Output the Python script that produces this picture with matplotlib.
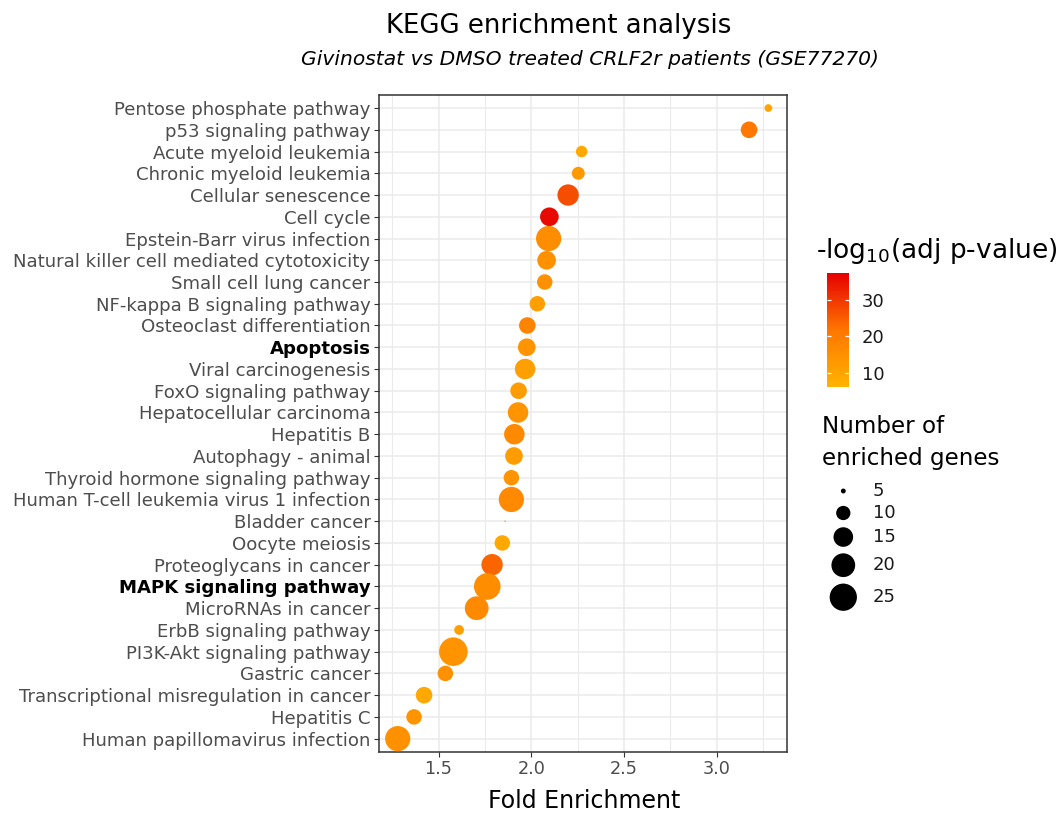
import numpy as np
import matplotlib.pyplot as plt
from matplotlib.colors import LinearSegmentedColormap, Normalize

# KEGG terms, top to bottom as shown
pathways = [
    "Pentose phosphate pathway", "p53 signaling pathway", "Acute myeloid leukemia",
    "Chronic myeloid leukemia", "Cellular senescence", "Cell cycle",
    "Epstein-Barr virus infection", "Natural killer cell mediated cytotoxicity",
    "Small cell lung cancer", "NF-kappa B signaling pathway", "Osteoclast differentiation",
    "Apoptosis", "Viral carcinogenesis", "FoxO signaling pathway", "Hepatocellular carcinoma",
    "Hepatitis B", "Autophagy - animal", "Thyroid hormone signaling pathway",
    "Human T-cell leukemia virus 1 infection", "Bladder cancer", "Oocyte meiosis",
    "Proteoglycans in cancer", "MAPK signaling pathway", "MicroRNAs in cancer",
    "ErbB signaling pathway", "PI3K-Akt signaling pathway", "Gastric cancer",
    "Transcriptional misregulation in cancer", "Hepatitis C", "Human papillomavirus infection",
]
fold_enrichment = [3.279, 3.175, 2.272, 2.254, 2.199, 2.098, 2.094, 2.083, 2.073, 2.033,
                   1.979, 1.976, 1.967, 1.932, 1.929, 1.909, 1.907, 1.893, 1.893, 1.859,
                   1.844, 1.789, 1.763, 1.706, 1.611, 1.580, 1.537, 1.422, 1.368, 1.280]
gene_counts = [6, 12, 8, 9, 17, 14, 22, 14, 11, 11,
               12, 13, 16, 12, 16, 16, 13, 11, 22, 4,
               11, 17, 24, 20, 7, 27, 11, 12, 11, 22]
neg_log10_padj = [10, 21, 9, 13, 27, 36, 16, 15, 15, 11,
                  18, 14, 11, 12, 14, 17, 12, 14, 17, 14,
                  9, 24, 16, 17, 11, 14, 15, 9, 14, 15]
bold_terms = ["Apoptosis", "MAPK signaling pathway"]
size_breaks = [5, 10, 15, 20, 25]
color_breaks = [10, 20, 30]

plt.rcParams['font.family'] = ['DejaVu Sans']

W, H = 1064, 813
def fx(px):
    return px / W
def fy(py):
    return 1 - py / H

def area_px(n):
    n = np.asarray(n, dtype=float)
    return np.maximum(36 * (n - 4.4), 0) + 2

def area_pt(n):
    return area_px(n) * 0.72 ** 2

cmap = LinearSegmentedColormap.from_list("or", ["#FFB300", "#FF7600", "#E60000"])
norm = Normalize(6.2, 37.3)

fig = plt.figure(figsize=(W / 100, H / 100), dpi=100)
ax = fig.add_axes([fx(379), fy(751.7), fx(786.7 - 379), (751.7 - 95) / H])

ypos = np.arange(len(pathways))[::-1]
ax.scatter(fold_enrichment, ypos, s=area_pt(gene_counts), c=neg_log10_padj,
           cmap=cmap, norm=norm, edgecolors='none', zorder=3)

ax.set_xlim(1.179, 3.378)
ax.set_ylim(-0.6, len(pathways) - 0.4)
ax.set_xticks([1.5, 2.0, 2.5, 3.0])
ax.set_xticks([1.25, 1.75, 2.25, 2.75, 3.25], minor=True)
ax.set_yticks(ypos)
ax.set_yticklabels(pathways)
ax.grid(True, which='major', color='#EBEBEB', lw=1.1, zorder=0)
ax.grid(True, which='minor', axis='x', color='#EBEBEB', lw=0.8, zorder=0)
ax.set_axisbelow(True)
ax.tick_params(which='major', length=3.6, width=0.8, color='#333333',
               labelsize=13.1, labelcolor='#4D4D4D', pad=2.5)
ax.tick_params(axis='x', which='major', labelsize=12.7)
ax.tick_params(which='minor', length=0)
for lab in ax.get_yticklabels():
    if lab.get_text() in bold_terms:
        lab.set_fontweight('bold')
        lab.set_color('black')
for sp in ax.spines.values():
    sp.set_color('#333333')
    sp.set_linewidth(1.1)

fig.text(fx(584), fy(808), "Fold Enrichment", ha='center', va='baseline', fontsize=17)
fig.text(fx(558.5), fy(33), "KEGG enrichment analysis", ha='center', va='baseline', fontsize=18.7)
fig.text(fx(590), fy(65), "Givinostat vs DMSO treated CRLF2r patients (GSE77270)",
         ha='center', va='baseline', fontsize=14.6, style='italic')

# colour legend
fig.text(fx(816), fy(258), r"-log$_{10}$(adj p-value)", ha='left', va='baseline', fontsize=19)
cax = fig.add_axes([fx(826.7), fy(386.7), fx(849.3 - 826.7), (386.7 - 273.3) / H])
cb = fig.colorbar(plt.cm.ScalarMappable(norm=norm, cmap=cmap), cax=cax)
cb.outline.set_visible(False)
cb.set_ticks(color_breaks)
cax.tick_params(length=0, pad=9, labelsize=13, labelcolor='#1A1A1A')
cax.hlines(color_breaks, 0, 0.2, color='white', lw=0.9, transform=cax.get_yaxis_transform())
cax.hlines(color_breaks, 0.8, 1.0, color='white', lw=0.9, transform=cax.get_yaxis_transform())

# size legend
fig.text(fx(822), fy(433.3), "Number of", ha='left', va='baseline', fontsize=16.6)
fig.text(fx(822), fy(465), "enriched genes", ha='left', va='baseline', fontsize=16.6)
lax = fig.add_axes([0, 0, 1, 1])
lax.set_xlim(0, W)
lax.set_ylim(H, 0)
lax.axis('off')
d_keys = np.sqrt(area_px(size_breaks))
key_h = np.maximum(22, d_keys + 6.5)
key_y = 491 - key_h[0] / 2 + np.cumsum(key_h) - key_h / 2
lax.scatter([843.3] * len(size_breaks), key_y, s=area_pt(size_breaks), color='black',
            edgecolors='none')
for v, yy in zip(size_breaks, key_y):
    lax.text(872.7, yy, str(v), ha='left', va='center', fontsize=13, color='#1A1A1A')

fig.savefig("out.png", dpi=100)
